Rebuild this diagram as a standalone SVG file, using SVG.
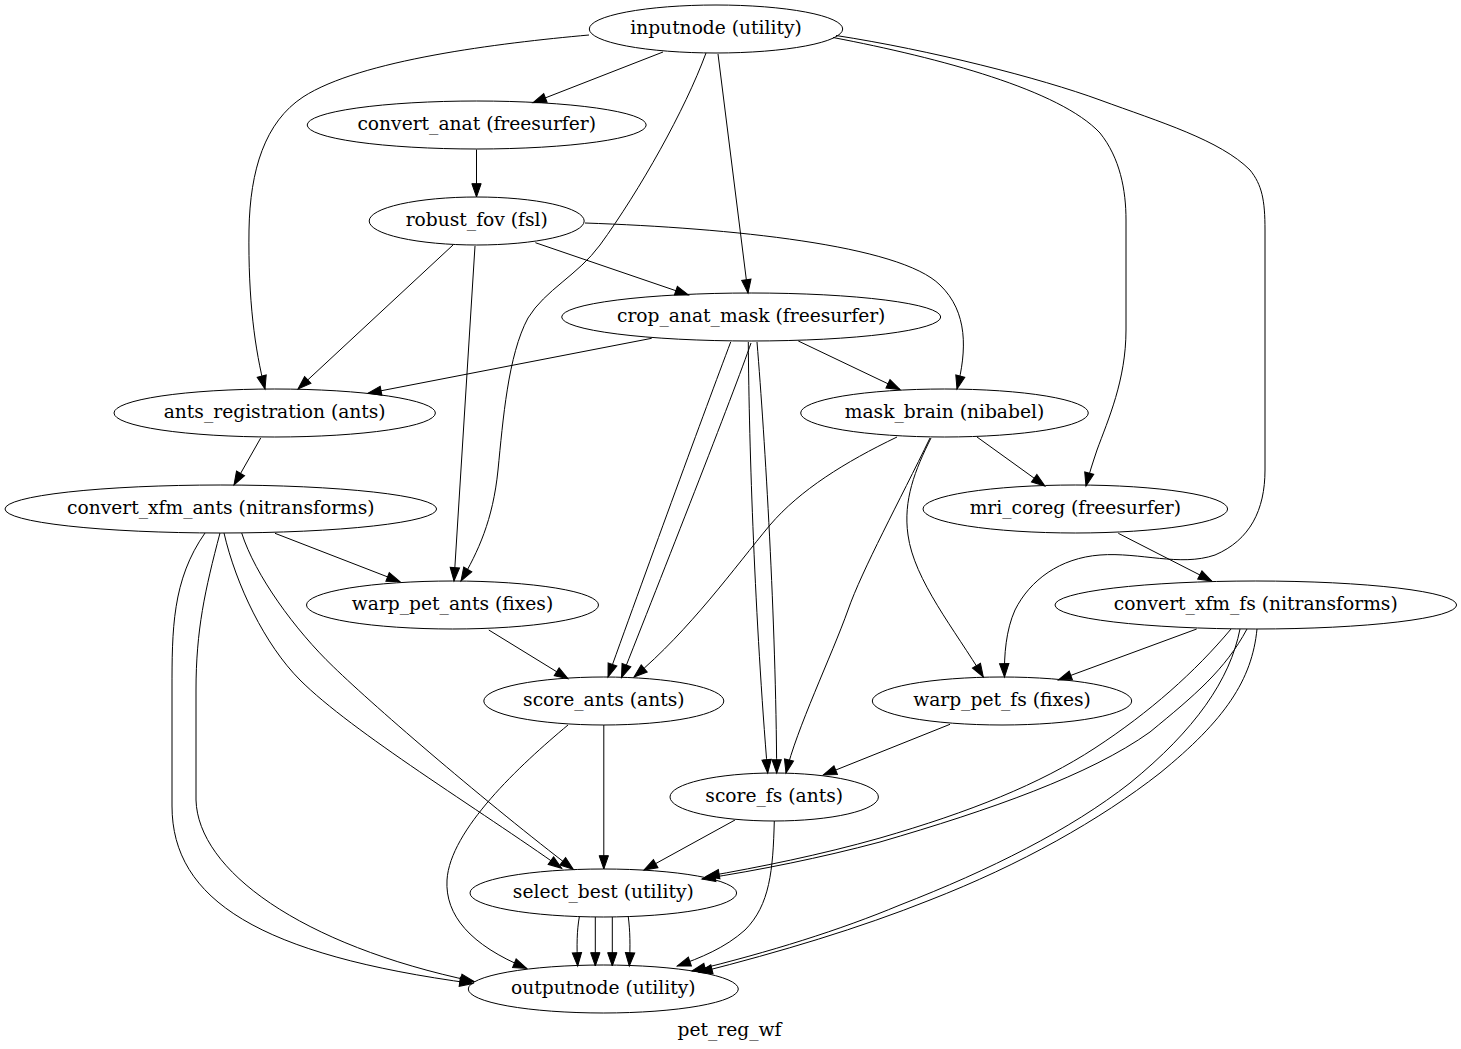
<svg xmlns="http://www.w3.org/2000/svg" width="1461" height="1049" viewBox="0 0 1461 1049">
<defs>
<marker id="ah" markerUnits="userSpaceOnUse" markerWidth="16" markerHeight="12" refX="13.33" refY="4.67" orient="auto" overflow="visible">
<path d="M0,0 L13.33,4.67 L0,9.33 Z" fill="#000" stroke="#000" stroke-width="1"/>
</marker>
</defs>
<style>
.node ellipse{fill:none;stroke:#000;stroke-width:1}
text{font-family:"DejaVu Serif","Liberation Serif",serif;font-size:18.67px;text-anchor:middle;fill:#000}
.edges path{fill:none;stroke:#000;stroke-width:1;marker-end:url(#ah)}
</style>
<rect x="0" y="0" width="1461" height="1049" fill="#fff"/>
<g class="edges" id="edges">
<path d="M663,52 L533,102.7"/>
<path d="M589,35 C500,43 360,60 303,97 C265,122 250,170 249,230 C248,300 255,350 265,389"/>
<path d="M706,53 C685,110 640,190 600,245 C578,275 545,290 528,318 C508,355 503,420 498,470 C493,520 478,552 461,581"/>
<path d="M718,54 L748,293"/>
<path d="M833,37.5 C940,58 1060,90 1100,133 C1120,158 1126,190 1126,220 L1126,330 C1126,380 1108,420 1097,450 C1093,462 1089,474 1086,486"/>
<path d="M836,35.5 C930,50 1040,78 1100,100 C1160,122 1220,140 1250,170 C1262,185 1265,200 1265,230 L1265,470 C1265,510 1250,540 1215,555 C1180,567 1140,552 1100,555 C1060,558 1030,580 1015,610 C1006,630 1004,655 1004.5,677"/>
<path d="M476.5,149.5 L476.5,197"/>
<path d="M453,245 L298,389"/>
<path d="M475,246 L454,581"/>
<path d="M535.4,242.7 L688.5,295"/>
<path d="M585,223 C730,228 900,245 940,285 C968,312 967,350 957,389"/>
<path d="M651.7,338.3 L368,393.3"/>
<path d="M798.3,341 L900,389.5"/>
<path d="M730.7,342 C705,410 650,560 608,677"/>
<path d="M751,343 C735,390 660,580 621.5,677.5"/>
<path d="M748.3,342 C749,450 755,620 767.7,773"/>
<path d="M757,342 C765,440 776,620 776.7,773"/>
<path d="M897,437 C845,462 800,490 770,525 C735,567 690,630 634,677"/>
<path d="M930,438 C900,500 862,570 848,610 C832,655 796,730 786,773"/>
<path d="M931,438 C915,470 903,500 908,535 C914,580 955,630 983.3,677"/>
<path d="M977,437 L1045,486"/>
<path d="M1118.3,533.3 L1211.7,581"/>
<path d="M260.7,438 L234,485"/>
<path d="M275,533.3 L400,581.7"/>
<path d="M224,533 C236,585 265,645 300,680 C352,732 480,810 561.7,868.3"/>
<path d="M241.7,533 C255,575 295,630 333.3,666.7 C378,710 488,804 573.3,869.3"/>
<path d="M205,533 C172,580 172,630 172,690 L172,806 C172,900 260,955 473,983.5"/>
<path d="M220,533 C205,590 196,630 196,690 L196,800 C198,870 300,945 474,981.5"/>
<path d="M488.8,630 L568,678.7"/>
<path d="M1196.7,629 L1058.3,680"/>
<path d="M1231,629 C1195,672 1150,712 1095,748 C1040,784 970,812 880,838 C820,855 760,867 706,876.5"/>
<path d="M1247,629 C1225,670 1195,695 1150,732 C1090,775 990,810 880,842 C820,858 760,870 702,879"/>
<path d="M1240,629 C1230,680 1195,730 1130,783 C1070,830 990,870 900,905 C840,930 770,952 692,971"/>
<path d="M1257,629 C1252,680 1225,720 1160,773 C1100,820 1020,865 930,900 C860,928 780,952 699,972.5"/>
<path d="M603.8,725 L603.8,869"/>
<path d="M568,725 C520,765 450,830 447,880 C445,915 470,945 526.7,968.3"/>
<path d="M950,724.3 L823.3,775"/>
<path d="M735,820 L644,870"/>
<path d="M774.3,821 C773,870 770,905 745,930 C725,948 700,958 677.3,966"/>
<path d="M579.3,917 C577,930 576.5,945 577.7,966"/>
<path d="M595.3,917 L595.3,966"/>
<path d="M612.3,917 L612.3,966"/>
<path d="M628.3,917 C630,930 630.5,945 629.3,966"/>
</g>
<g class="node" id="inputnode"><ellipse cx="716" cy="29" rx="126.7" ry="24"/><text x="716" y="34.3">inputnode (utility)</text></g>
<g class="node" id="convert_anat"><ellipse cx="476.7" cy="125" rx="169.5" ry="24"/><text x="476.7" y="130.3">convert_anat (freesurfer)</text></g>
<g class="node" id="robust_fov"><ellipse cx="476.7" cy="221" rx="107.5" ry="24"/><text x="476.7" y="226.3">robust_fov (fsl)</text></g>
<g class="node" id="crop_anat_mask"><ellipse cx="751.2" cy="317" rx="189.5" ry="24"/><text x="751.2" y="322.3">crop_anat_mask (freesurfer)</text></g>
<g class="node" id="ants_registration"><ellipse cx="274.7" cy="413" rx="160.7" ry="24"/><text x="274.7" y="418.3">ants_registration (ants)</text></g>
<g class="node" id="mask_brain"><ellipse cx="944.5" cy="413" rx="143.8" ry="24"/><text x="944.5" y="418.3">mask_brain (nibabel)</text></g>
<g class="node" id="convert_xfm_ants"><ellipse cx="220.8" cy="509" rx="215.8" ry="24"/><text x="220.8" y="514.3">convert_xfm_ants (nitransforms)</text></g>
<g class="node" id="mri_coreg"><ellipse cx="1075.3" cy="509" rx="152.3" ry="24"/><text x="1075.3" y="514.3">mri_coreg (freesurfer)</text></g>
<g class="node" id="warp_pet_ants"><ellipse cx="452.5" cy="605" rx="146" ry="24"/><text x="452.5" y="610.3">warp_pet_ants (fixes)</text></g>
<g class="node" id="convert_xfm_fs"><ellipse cx="1255.8" cy="605" rx="200.8" ry="24"/><text x="1255.8" y="610.3">convert_xfm_fs (nitransforms)</text></g>
<g class="node" id="score_ants"><ellipse cx="603.8" cy="701" rx="120" ry="24"/><text x="603.8" y="706.3">score_ants (ants)</text></g>
<g class="node" id="warp_pet_fs"><ellipse cx="1002" cy="701" rx="129.7" ry="24"/><text x="1002" y="706.3">warp_pet_fs (fixes)</text></g>
<g class="node" id="score_fs"><ellipse cx="774.2" cy="797" rx="104.2" ry="24"/><text x="774.2" y="802.3">score_fs (ants)</text></g>
<g class="node" id="select_best"><ellipse cx="603.3" cy="893" rx="133.3" ry="24"/><text x="603.3" y="898.3">select_best (utility)</text></g>
<g class="node" id="outputnode"><ellipse cx="603.3" cy="989" rx="135" ry="24"/><text x="603.3" y="994.3">outputnode (utility)</text></g>
<text id="graph-label" x="729.5" y="1035.5">pet_reg_wf</text>
</svg>
